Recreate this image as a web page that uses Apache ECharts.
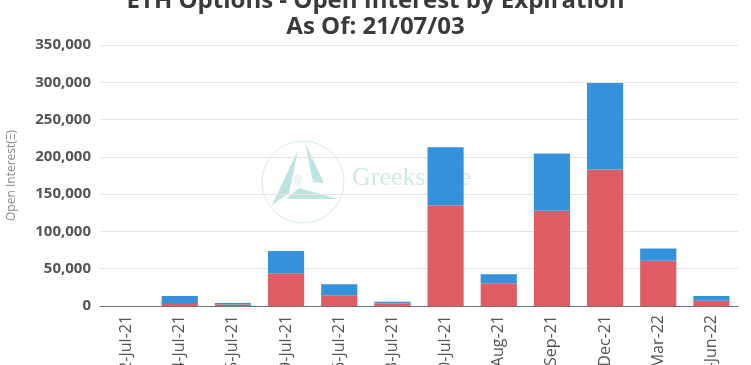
<!DOCTYPE html>
<html>
<head>
<meta charset="utf-8">
<script src="https://cdn.jsdelivr.net/npm/echarts@6/dist/echarts.min.js"></script>
<style>html,body{margin:0;padding:0;background:#fff}#c{width:751px;height:365px}</style>
</head>
<body>
<div id="c"></div>
<script>
const categories = ["2-Jul-21","4-Jul-21","5-Jul-21","9-Jul-21","16-Jul-21","23-Jul-21","30-Jul-21","27-Aug-21","24-Sep-21","31-Dec-21","25-Mar-22","24-Jun-22"];
const putValues  = [0, 4000, 2000, 44000, 14300, 3200, 135000, 30400, 127700, 183000, 60700, 7100];
const callValues = [0, 9400, 2000, 29700, 14700, 2600, 78000, 12100, 76900, 116000, 16300, 6300];
const yTicks = [0, 50000, 100000, 150000, 200000, 250000, 300000, 350000];

const chart = echarts.init(document.getElementById('c'));
chart.setOption({
  animation: false,
  backgroundColor: '#ffffff',
  title: {
    text: 'ETH Options - Open Interest by Expiration\nAs Of: 21/07/03',
    left: 'center',
    top: -17,
    textStyle: { fontFamily: 'Open Sans', fontSize: 24, fontWeight: 'bold', color: '#3a3a3a', lineHeight: 26 }
  },
  graphic: [
    { type: 'circle', shape: { cx: 303, cy: 182, r: 41 }, style: { fill: 'none', stroke: '#d3ecea', lineWidth: 1 }, z: 0 },
    { type: 'polygon', shape: { points: [[305,143],[324,183],[313,182]] }, style: { fill: '#bfe3e0' }, z: 0 },
    { type: 'polygon', shape: { points: [[298,150],[272,205],[289,193]] }, style: { fill: '#bfe3e0' }, z: 0 },
    { type: 'polygon', shape: { points: [[286,199],[338,199],[299,188]] }, style: { fill: '#bfe3e0' }, z: 0 },
    { type: 'text', left: 292, top: 172, style: { text: 'e', font: 'italic 16px "DejaVu Serif"', fill: '#ffffff', stroke: '#bfe3e0', lineWidth: 1 }, z: 0 },
    { type: 'text', left: 352, top: 165, style: { text: 'Greeks.live', font: '26px "Liberation Serif"', fill: '#cfe9e7' }, z: 0 }
  ],
  grid: { left: 100, right: 13, top: 45, bottom: 59, containLabel: false, outerBoundsMode: 'none' },
  xAxis: {
    type: 'category',
    data: categories,
    axisLine: { lineStyle: { color: '#6e7079', width: 1 } },
    axisTick: { alignWithLabel: false, length: 5, lineStyle: { color: '#6e7079' } },
    axisLabel: { rotate: 90, fontFamily: 'Open Sans', fontSize: 16, color: '#555', margin: 9, hideOverlap: false }
  },
  yAxis: {
    type: 'value',
    min: yTicks[0],
    max: yTicks[yTicks.length - 1],
    interval: yTicks[1] - yTicks[0],
    name: 'Open Interest(Ξ)',
    nameLocation: 'middle',
    nameGap: 82,
    nameTextStyle: { fontFamily: 'Open Sans', fontSize: 12, color: '#888' },
    axisLine: { show: false },
    axisTick: { show: false },
    splitLine: { lineStyle: { color: '#e3e3e3' } },
    axisLabel: {
      fontFamily: 'Open Sans', fontSize: 15, fontWeight: 'bold', color: '#555', margin: 9,
      formatter: v => v.toLocaleString('en-US')
    }
  },
  series: [
    { name: 'Put', type: 'bar', stack: 'oi', data: putValues, barWidth: '68%', itemStyle: { color: '#e05c64' }, z: 2 },
    { name: 'Call', type: 'bar', stack: 'oi', data: callValues, barWidth: '68%', itemStyle: { color: '#3492dd' }, z: 2 }
  ]
});
</script>
</body>
</html>
